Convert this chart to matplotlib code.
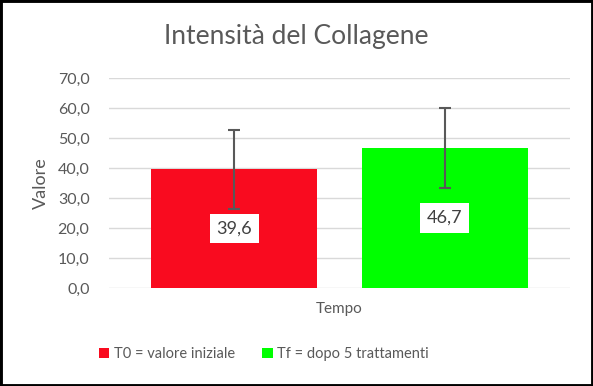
import matplotlib.pyplot as plt
from matplotlib.ticker import FuncFormatter, MultipleLocator
from matplotlib.patches import Rectangle

plt.rcParams['font.family'] = ['Lato', 'DejaVu Sans']

series = ["T0 = valore iniziale", "Tf = dopo 5 trattamenti"]
values = [39.6, 46.7]
errors = [13.1, 13.3]
colors = ["#F90B1F", "#00FF00"]
offsets = [-0.228, 0.228]

fig = plt.figure(figsize=(5.93, 3.86), dpi=100)
ax = fig.add_axes([0.1838, 0.2539, 0.7774, 0.544])

grey = "#595959"
for name, v, e, c, off in zip(series, values, errors, colors, offsets):
    ax.bar(off, v, width=0.36, color=c, label=name, zorder=2)
    ax.errorbar(off, v, yerr=e, color=grey, lw=1.5, capsize=4, capthick=1.5, zorder=3)
    ax.text(off, v / 2, f"{v:.1f}".replace(".", ","), ha="center", va="center",
            fontsize=13, color="#404040", zorder=4,
            bbox=dict(facecolor="white", edgecolor="none", pad=5))

ax.set_xlim(-0.5, 0.5)
ax.set_ylim(0, 70)
ax.yaxis.set_major_locator(MultipleLocator(10))
ax.yaxis.set_major_formatter(FuncFormatter(lambda y, p: f"{y:.1f}".replace(".", ",")))
ax.grid(axis="y", color="#D9D9D9", lw=1, zorder=0)
for s in ax.spines.values():
    s.set_visible(False)
ax.tick_params(axis="y", length=0, labelsize=11.5, labelcolor=grey, pad=14)
ax.set_xticks([])
ax.set_xlabel("Tempo", fontsize=11, color=grey, labelpad=10)
ax.set_ylabel("Valore", fontsize=13, color=grey, labelpad=6)

fig.text(0.5, 0.905, "Intensità del Collagene", ha="center", va="center",
         fontsize=19, color=grey)

fig.legend(loc="center", bbox_to_anchor=(0.445, 0.083), ncol=2, frameon=False,
           fontsize=10.5, labelcolor=grey, handlelength=0.7, handleheight=0.7,
           handletextpad=0.3, columnspacing=1.9)

fig.patches.append(Rectangle((0, 0), 1, 1, transform=fig.transFigure,
                             fill=False, edgecolor="black", lw=3.5))

fig.savefig("out.png", dpi=100)
